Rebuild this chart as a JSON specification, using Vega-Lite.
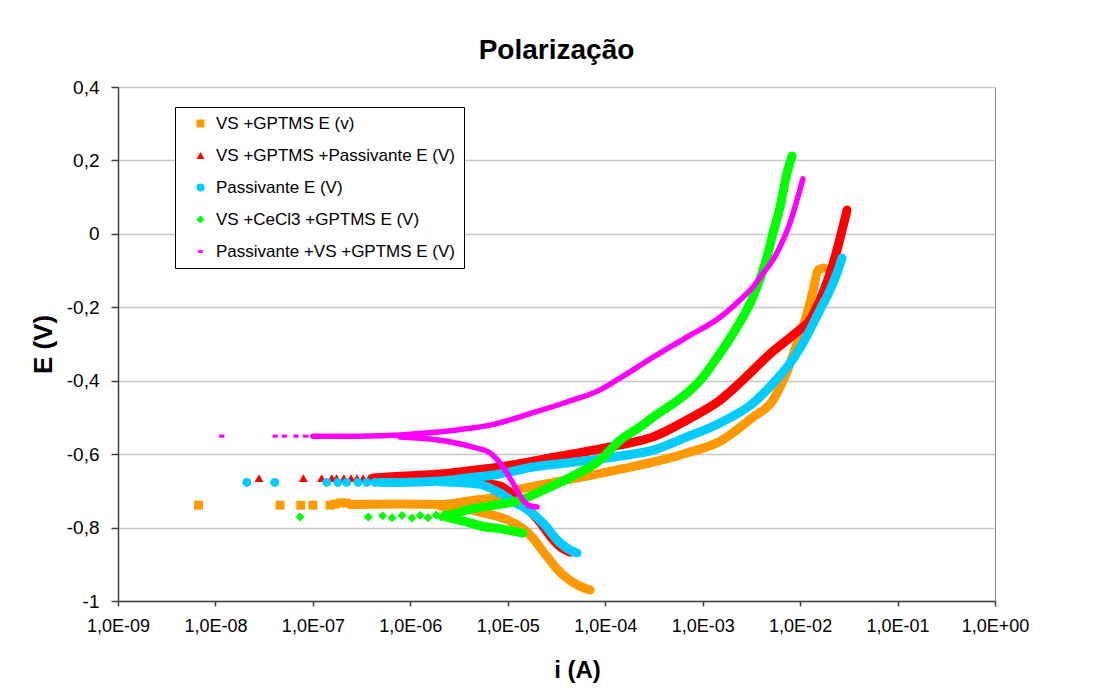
{
"$schema": "https://vega.github.io/schema/vega-lite/v6.json",
"width": 877, "height": 514,
"autosize": {"type": "none"},
"padding": {"left": 118, "top": 87, "right": 104, "bottom": 87},
"background": "white",
"title": {"text": "Polarização", "font": "Liberation Sans", "fontSize": 28, "fontWeight": "bold", "color": "black", "anchor": "middle", "baseline": "alphabetic", "offset": 28, "dy": 37},
"config": {"view": {"stroke": "#8c8c8c", "strokeWidth": 1}, "font": "Liberation Sans"},
"resolve": {"scale": {"color": "independent"}, "legend": {"color": "independent", "shape": "independent"}},
"datasets": {"d": [
{"s":"VS +GPTMS E (v)","k":"p","i":6.7e-9,"E":-0.739},
{"s":"VS +GPTMS E (v)","k":"p","i":4.6e-8,"E":-0.739},
{"s":"VS +GPTMS E (v)","k":"p","i":7.5e-8,"E":-0.739},
{"s":"VS +GPTMS E (v)","k":"p","i":1.0e-7,"E":-0.739},
{"s":"VS +GPTMS E (v)","k":"p","i":1.5e-7,"E":-0.739},
{"s":"VS +GPTMS E (v)","k":"p","i":1.69e-7,"E":-0.736},
{"s":"VS +GPTMS E (v)","k":"p","i":1.9e-7,"E":-0.733},
{"s":"VS +GPTMS E (v)","k":"p","i":2.19e-7,"E":-0.733},
{"s":"VS +GPTMS E (v)","k":"a","i":2.4e-7,"E":-0.737},
{"s":"VS +GPTMS E (v)","k":"a","i":7.83e-7,"E":-0.736},
{"s":"VS +GPTMS E (v)","k":"a","i":2.02e-6,"E":-0.737},
{"s":"VS +GPTMS E (v)","k":"a","i":3.82e-6,"E":-0.728},
{"s":"VS +GPTMS E (v)","k":"a","i":8.32e-6,"E":-0.714},
{"s":"VS +GPTMS E (v)","k":"a","i":1.24e-5,"E":-0.698},
{"s":"VS +GPTMS E (v)","k":"a","i":2.71e-5,"E":-0.679},
{"s":"VS +GPTMS E (v)","k":"a","i":5.92e-5,"E":-0.662},
{"s":"VS +GPTMS E (v)","k":"a","i":1.42e-4,"E":-0.641},
{"s":"VS +GPTMS E (v)","k":"a","i":3.10e-4,"E":-0.622},
{"s":"VS +GPTMS E (v)","k":"a","i":6.90e-4,"E":-0.597},
{"s":"VS +GPTMS E (v)","k":"a","i":1.51e-3,"E":-0.565},
{"s":"VS +GPTMS E (v)","k":"a","i":3.29e-3,"E":-0.499},
{"s":"VS +GPTMS E (v)","k":"a","i":5.27e-3,"E":-0.453},
{"s":"VS +GPTMS E (v)","k":"a","i":6.22e-3,"E":-0.417},
{"s":"VS +GPTMS E (v)","k":"a","i":7.35e-3,"E":-0.376},
{"s":"VS +GPTMS E (v)","k":"a","i":8.45e-3,"E":-0.330},
{"s":"VS +GPTMS E (v)","k":"a","i":9.98e-3,"E":-0.276},
{"s":"VS +GPTMS E (v)","k":"a","i":1.18e-2,"E":-0.216},
{"s":"VS +GPTMS E (v)","k":"a","i":1.36e-2,"E":-0.153},
{"s":"VS +GPTMS E (v)","k":"a","i":1.53e-2,"E":-0.099},
{"s":"VS +GPTMS E (v)","k":"a","i":1.76e-2,"E":-0.093},
{"s":"VS +GPTMS E (v)","k":"c","i":2.02e-6,"E":-0.741},
{"s":"VS +GPTMS E (v)","k":"c","i":4.09e-6,"E":-0.752},
{"s":"VS +GPTMS E (v)","k":"c","i":5.57e-6,"E":-0.760},
{"s":"VS +GPTMS E (v)","k":"c","i":7.76e-6,"E":-0.769},
{"s":"VS +GPTMS E (v)","k":"c","i":1.05e-5,"E":-0.782},
{"s":"VS +GPTMS E (v)","k":"c","i":1.40e-5,"E":-0.801},
{"s":"VS +GPTMS E (v)","k":"c","i":1.82e-5,"E":-0.829},
{"s":"VS +GPTMS E (v)","k":"c","i":2.24e-5,"E":-0.861},
{"s":"VS +GPTMS E (v)","k":"c","i":2.71e-5,"E":-0.889},
{"s":"VS +GPTMS E (v)","k":"c","i":3.28e-5,"E":-0.916},
{"s":"VS +GPTMS E (v)","k":"c","i":4.06e-5,"E":-0.938},
{"s":"VS +GPTMS E (v)","k":"c","i":5.26e-5,"E":-0.957},
{"s":"VS +GPTMS E (v)","k":"c","i":6.98e-5,"E":-0.970},

{"s":"VS +GPTMS +Passivante E (V)","k":"p","i":2.8e-8,"E":-0.665},
{"s":"VS +GPTMS +Passivante E (V)","k":"p","i":7.98e-8,"E":-0.665},
{"s":"VS +GPTMS +Passivante E (V)","k":"p","i":1.23e-7,"E":-0.665},
{"s":"VS +GPTMS +Passivante E (V)","k":"p","i":1.56e-7,"E":-0.665},
{"s":"VS +GPTMS +Passivante E (V)","k":"p","i":1.75e-7,"E":-0.665},
{"s":"VS +GPTMS +Passivante E (V)","k":"p","i":2.08e-7,"E":-0.665},
{"s":"VS +GPTMS +Passivante E (V)","k":"p","i":2.46e-7,"E":-0.665},
{"s":"VS +GPTMS +Passivante E (V)","k":"p","i":2.84e-7,"E":-0.665},
{"s":"VS +GPTMS +Passivante E (V)","k":"p","i":3.27e-7,"E":-0.665},
{"s":"VS +GPTMS +Passivante E (V)","k":"p","i":3.77e-7,"E":-0.665},
{"s":"VS +GPTMS +Passivante E (V)","k":"a","i":4.14e-7,"E":-0.665},
{"s":"VS +GPTMS +Passivante E (V)","k":"a","i":7.83e-7,"E":-0.660},
{"s":"VS +GPTMS +Passivante E (V)","k":"a","i":2.02e-6,"E":-0.654},
{"s":"VS +GPTMS +Passivante E (V)","k":"a","i":3.82e-6,"E":-0.646},
{"s":"VS +GPTMS +Passivante E (V)","k":"a","i":8.32e-6,"E":-0.635},
{"s":"VS +GPTMS +Passivante E (V)","k":"a","i":1.82e-5,"E":-0.619},
{"s":"VS +GPTMS +Passivante E (V)","k":"a","i":4.06e-5,"E":-0.602},
{"s":"VS +GPTMS +Passivante E (V)","k":"a","i":8.85e-5,"E":-0.586},
{"s":"VS +GPTMS +Passivante E (V)","k":"a","i":1.42e-4,"E":-0.575},
{"s":"VS +GPTMS +Passivante E (V)","k":"a","i":3.10e-4,"E":-0.553},
{"s":"VS +GPTMS +Passivante E (V)","k":"a","i":6.90e-4,"E":-0.507},
{"s":"VS +GPTMS +Passivante E (V)","k":"a","i":1.51e-3,"E":-0.453},
{"s":"VS +GPTMS +Passivante E (V)","k":"a","i":2.59e-3,"E":-0.398},
{"s":"VS +GPTMS +Passivante E (V)","k":"a","i":4.91e-3,"E":-0.327},
{"s":"VS +GPTMS +Passivante E (V)","k":"a","i":9.29e-3,"E":-0.267},
{"s":"VS +GPTMS +Passivante E (V)","k":"a","i":1.26e-2,"E":-0.235},
{"s":"VS +GPTMS +Passivante E (V)","k":"a","i":1.60e-2,"E":-0.180},
{"s":"VS +GPTMS +Passivante E (V)","k":"a","i":2.03e-2,"E":-0.107},
{"s":"VS +GPTMS +Passivante E (V)","k":"a","i":2.39e-2,"E":-0.044},
{"s":"VS +GPTMS +Passivante E (V)","k":"a","i":2.75e-2,"E":0.019},
{"s":"VS +GPTMS +Passivante E (V)","k":"a","i":3.03e-2,"E":0.065},
{"s":"VS +GPTMS +Passivante E (V)","k":"c","i":2.02e-6,"E":-0.656},
{"s":"VS +GPTMS +Passivante E (V)","k":"c","i":4.83e-6,"E":-0.676},
{"s":"VS +GPTMS +Passivante E (V)","k":"c","i":8.32e-6,"E":-0.687},
{"s":"VS +GPTMS +Passivante E (V)","k":"c","i":1.19e-5,"E":-0.717},
{"s":"VS +GPTMS +Passivante E (V)","k":"c","i":1.57e-5,"E":-0.747},
{"s":"VS +GPTMS +Passivante E (V)","k":"c","i":2.14e-5,"E":-0.785},
{"s":"VS +GPTMS +Passivante E (V)","k":"c","i":2.84e-5,"E":-0.829},
{"s":"VS +GPTMS +Passivante E (V)","k":"c","i":3.61e-5,"E":-0.856},
{"s":"VS +GPTMS +Passivante E (V)","k":"c","i":4.35e-5,"E":-0.867},

{"s":"Passivante E (V)","k":"p","i":2.1e-8,"E":-0.677},
{"s":"Passivante E (V)","k":"p","i":4.06e-8,"E":-0.677},
{"s":"Passivante E (V)","k":"p","i":1.39e-7,"E":-0.677},
{"s":"Passivante E (V)","k":"p","i":1.8e-7,"E":-0.677},
{"s":"Passivante E (V)","k":"p","i":2.22e-7,"E":-0.677},
{"s":"Passivante E (V)","k":"p","i":2.9e-7,"E":-0.677},
{"s":"Passivante E (V)","k":"p","i":3.57e-7,"E":-0.677},
{"s":"Passivante E (V)","k":"p","i":4.35e-7,"E":-0.677},
{"s":"Passivante E (V)","k":"a","i":4.89e-7,"E":-0.677},
{"s":"Passivante E (V)","k":"a","i":7.83e-7,"E":-0.677},
{"s":"Passivante E (V)","k":"a","i":2.02e-6,"E":-0.673},
{"s":"Passivante E (V)","k":"a","i":3.82e-6,"E":-0.665},
{"s":"Passivante E (V)","k":"a","i":8.32e-6,"E":-0.654},
{"s":"Passivante E (V)","k":"a","i":1.82e-5,"E":-0.635},
{"s":"Passivante E (V)","k":"a","i":4.06e-5,"E":-0.624},
{"s":"Passivante E (V)","k":"a","i":8.85e-5,"E":-0.613},
{"s":"Passivante E (V)","k":"a","i":1.42e-4,"E":-0.605},
{"s":"Passivante E (V)","k":"a","i":3.10e-4,"E":-0.589},
{"s":"Passivante E (V)","k":"a","i":6.90e-4,"E":-0.553},
{"s":"Passivante E (V)","k":"a","i":1.51e-3,"E":-0.515},
{"s":"Passivante E (V)","k":"a","i":3.29e-3,"E":-0.461},
{"s":"Passivante E (V)","k":"a","i":5.79e-3,"E":-0.395},
{"s":"Passivante E (V)","k":"a","i":7.35e-3,"E":-0.363},
{"s":"Passivante E (V)","k":"a","i":1.07e-2,"E":-0.297},
{"s":"Passivante E (V)","k":"a","i":1.60e-2,"E":-0.207},
{"s":"Passivante E (V)","k":"a","i":2.03e-2,"E":-0.153},
{"s":"Passivante E (V)","k":"a","i":2.39e-2,"E":-0.107},
{"s":"Passivante E (V)","k":"a","i":2.69e-2,"E":-0.066},
{"s":"Passivante E (V)","k":"c","i":2.02e-6,"E":-0.675},
{"s":"Passivante E (V)","k":"c","i":4.83e-6,"E":-0.681},
{"s":"Passivante E (V)","k":"c","i":8.32e-6,"E":-0.706},
{"s":"Passivante E (V)","k":"c","i":1.19e-5,"E":-0.733},
{"s":"Passivante E (V)","k":"c","i":1.57e-5,"E":-0.750},
{"s":"Passivante E (V)","k":"c","i":2.30e-5,"E":-0.788},
{"s":"Passivante E (V)","k":"c","i":3.44e-5,"E":-0.842},
{"s":"Passivante E (V)","k":"c","i":4.35e-5,"E":-0.861},
{"s":"Passivante E (V)","k":"c","i":5.14e-5,"E":-0.869},

{"s":"VS +CeCl3 +GPTMS E (V)","k":"p","i":7.4e-8,"E":-0.771},
{"s":"VS +CeCl3 +GPTMS E (V)","k":"p","i":3.7e-7,"E":-0.771},
{"s":"VS +CeCl3 +GPTMS E (V)","k":"p","i":5.2e-7,"E":-0.768},
{"s":"VS +CeCl3 +GPTMS E (V)","k":"p","i":6.5e-7,"E":-0.773},
{"s":"VS +CeCl3 +GPTMS E (V)","k":"p","i":8.22e-7,"E":-0.767},
{"s":"VS +CeCl3 +GPTMS E (V)","k":"p","i":1.04e-6,"E":-0.774},
{"s":"VS +CeCl3 +GPTMS E (V)","k":"p","i":1.26e-6,"E":-0.767},
{"s":"VS +CeCl3 +GPTMS E (V)","k":"p","i":1.52e-6,"E":-0.773},
{"s":"VS +CeCl3 +GPTMS E (V)","k":"p","i":1.84e-6,"E":-0.766},
{"s":"VS +CeCl3 +GPTMS E (V)","k":"p","i":2.1e-6,"E":-0.772},
{"s":"VS +CeCl3 +GPTMS E (V)","k":"a","i":2.27e-6,"E":-0.766},
{"s":"VS +CeCl3 +GPTMS E (V)","k":"a","i":2.88e-6,"E":-0.762},
{"s":"VS +CeCl3 +GPTMS E (V)","k":"a","i":3.82e-6,"E":-0.752},
{"s":"VS +CeCl3 +GPTMS E (V)","k":"a","i":6.58e-6,"E":-0.741},
{"s":"VS +CeCl3 +GPTMS E (V)","k":"a","i":1.24e-5,"E":-0.728},
{"s":"VS +CeCl3 +GPTMS E (V)","k":"a","i":2.71e-5,"E":-0.690},
{"s":"VS +CeCl3 +GPTMS E (V)","k":"a","i":4.90e-5,"E":-0.657},
{"s":"VS +CeCl3 +GPTMS E (V)","k":"a","i":8.85e-5,"E":-0.616},
{"s":"VS +CeCl3 +GPTMS E (V)","k":"a","i":1.42e-4,"E":-0.562},
{"s":"VS +CeCl3 +GPTMS E (V)","k":"a","i":2.28e-4,"E":-0.526},
{"s":"VS +CeCl3 +GPTMS E (V)","k":"a","i":3.10e-4,"E":-0.499},
{"s":"VS +CeCl3 +GPTMS E (V)","k":"a","i":6.90e-4,"E":-0.434},
{"s":"VS +CeCl3 +GPTMS E (V)","k":"a","i":1.01e-3,"E":-0.390},
{"s":"VS +CeCl3 +GPTMS E (V)","k":"a","i":1.51e-3,"E":-0.325},
{"s":"VS +CeCl3 +GPTMS E (V)","k":"a","i":2.25e-3,"E":-0.254},
{"s":"VS +CeCl3 +GPTMS E (V)","k":"a","i":3.29e-3,"E":-0.172},
{"s":"VS +CeCl3 +GPTMS E (V)","k":"a","i":4.57e-3,"E":-0.063},
{"s":"VS +CeCl3 +GPTMS E (V)","k":"a","i":5.27e-3,"E":0.002},
{"s":"VS +CeCl3 +GPTMS E (V)","k":"a","i":6.22e-3,"E":0.073},
{"s":"VS +CeCl3 +GPTMS E (V)","k":"a","i":7.35e-3,"E":0.166},
{"s":"VS +CeCl3 +GPTMS E (V)","k":"a","i":8.26e-3,"E":0.212},
{"s":"VS +CeCl3 +GPTMS E (V)","k":"c","i":2.27e-6,"E":-0.769},
{"s":"VS +CeCl3 +GPTMS E (V)","k":"c","i":2.55e-6,"E":-0.774},
{"s":"VS +CeCl3 +GPTMS E (V)","k":"c","i":3.82e-6,"E":-0.785},
{"s":"VS +CeCl3 +GPTMS E (V)","k":"c","i":5.57e-6,"E":-0.797},
{"s":"VS +CeCl3 +GPTMS E (V)","k":"c","i":8.32e-6,"E":-0.803},
{"s":"VS +CeCl3 +GPTMS E (V)","k":"c","i":1.10e-5,"E":-0.809},
{"s":"VS +CeCl3 +GPTMS E (V)","k":"c","i":1.43e-5,"E":-0.815},

{"s":"Passivante +VS +GPTMS E (V)","k":"p","i":1.16e-8,"E":-0.551},
{"s":"Passivante +VS +GPTMS E (V)","k":"p","i":4.1e-8,"E":-0.551},
{"s":"Passivante +VS +GPTMS E (V)","k":"p","i":5.1e-8,"E":-0.551},
{"s":"Passivante +VS +GPTMS E (V)","k":"p","i":6.7e-8,"E":-0.551},
{"s":"Passivante +VS +GPTMS E (V)","k":"p","i":8.4e-8,"E":-0.551},
{"s":"Passivante +VS +GPTMS E (V)","k":"a","i":1.0e-7,"E":-0.551},
{"s":"Passivante +VS +GPTMS E (V)","k":"a","i":3.05e-7,"E":-0.551},
{"s":"Passivante +VS +GPTMS E (V)","k":"a","i":7.83e-7,"E":-0.548},
{"s":"Passivante +VS +GPTMS E (V)","k":"a","i":1.35e-6,"E":-0.543},
{"s":"Passivante +VS +GPTMS E (V)","k":"a","i":3.01e-6,"E":-0.534},
{"s":"Passivante +VS +GPTMS E (V)","k":"a","i":6.58e-6,"E":-0.521},
{"s":"Passivante +VS +GPTMS E (V)","k":"a","i":1.82e-5,"E":-0.487},
{"s":"Passivante +VS +GPTMS E (V)","k":"a","i":4.06e-5,"E":-0.458},
{"s":"Passivante +VS +GPTMS E (V)","k":"a","i":8.85e-5,"E":-0.425},
{"s":"Passivante +VS +GPTMS E (V)","k":"a","i":1.32e-4,"E":-0.398},
{"s":"Passivante +VS +GPTMS E (V)","k":"a","i":3.10e-4,"E":-0.336},
{"s":"Passivante +VS +GPTMS E (V)","k":"a","i":6.90e-4,"E":-0.281},
{"s":"Passivante +VS +GPTMS E (V)","k":"a","i":1.51e-3,"E":-0.227},
{"s":"Passivante +VS +GPTMS E (V)","k":"a","i":2.42e-3,"E":-0.180},
{"s":"Passivante +VS +GPTMS E (V)","k":"a","i":3.29e-3,"E":-0.145},
{"s":"Passivante +VS +GPTMS E (V)","k":"a","i":4.16e-3,"E":-0.107},
{"s":"Passivante +VS +GPTMS E (V)","k":"a","i":5.27e-3,"E":-0.071},
{"s":"Passivante +VS +GPTMS E (V)","k":"a","i":6.68e-3,"E":-0.017},
{"s":"Passivante +VS +GPTMS E (V)","k":"a","i":7.89e-3,"E":0.030},
{"s":"Passivante +VS +GPTMS E (V)","k":"a","i":9.29e-3,"E":0.092},
{"s":"Passivante +VS +GPTMS E (V)","k":"a","i":1.07e-2,"E":0.150},
{"s":"Passivante +VS +GPTMS E (V)","k":"c","i":7.83e-7,"E":-0.553},
{"s":"Passivante +VS +GPTMS E (V)","k":"c","i":2.02e-6,"E":-0.562},
{"s":"Passivante +VS +GPTMS E (V)","k":"c","i":4.40e-6,"E":-0.581},
{"s":"Passivante +VS +GPTMS E (V)","k":"c","i":6.58e-6,"E":-0.597},
{"s":"Passivante +VS +GPTMS E (V)","k":"c","i":8.93e-6,"E":-0.635},
{"s":"Passivante +VS +GPTMS E (V)","k":"c","i":1.13e-5,"E":-0.679},
{"s":"Passivante +VS +GPTMS E (V)","k":"c","i":1.43e-5,"E":-0.725},
{"s":"Passivante +VS +GPTMS E (V)","k":"c","i":1.69e-5,"E":-0.741},
{"s":"Passivante +VS +GPTMS E (V)","k":"c","i":2.0e-5,"E":-0.744}
]},
"data": {"name": "d"},
"encoding": {
  "x": {"field": "i", "type": "quantitative", "title": "i (A)",
    "scale": {"type": "log", "domain": [1e-9, 1]},
    "axis": {"values": [1e-9, 1e-8, 1e-7, 1e-6, 1e-5, 1e-4, 1e-3, 1e-2, 1e-1, 1],
      "labelExpr": "'1,0E' + (datum.value < 0.5 ? '-' : '+') + (abs(round(log(datum.value)/LN10)) < 10 ? '0' : '') + abs(round(log(datum.value)/LN10))",
      "grid": false, "domainColor": "#404040", "domainWidth": 1.5, "tickColor": "#404040", "tickSize": 5, "tickWidth": 1.5,
      "labelFont": "Liberation Sans", "labelFontSize": 18, "labelColor": "black", "labelPadding": 11, "labelFlush": false, "labelOverlap": false,
      "titleFont": "Liberation Sans", "titleFontSize": 24, "titleFontWeight": "bold", "titleColor": "black", "titleX": 459, "titleY": 76, "titleBaseline": "alphabetic"}},
  "y": {"field": "E", "type": "quantitative", "title": "E (V)",
    "scale": {"domain": [-1, 0.4], "nice": false, "zero": false},
    "axis": {"values": [-1, -0.8, -0.6, -0.4, -0.2, 0, 0.2, 0.4],
      "labelExpr": "(datum.value < -0.001 ? '-' : '') + replace(format(abs(datum.value), '.1~f'), '.', ',')",
      "grid": true, "gridColor": "#c8c8c8", "gridWidth": 1.3, "domainColor": "#404040", "domainWidth": 1.5, "tickColor": "#404040", "tickSize": 7, "tickWidth": 1.5,
      "labelFont": "Liberation Sans", "labelFontSize": 19, "labelColor": "black", "labelPadding": 12,
      "titleFont": "Liberation Sans", "titleFontSize": 26, "titleFontWeight": "bold", "titleColor": "black", "titleX": -75, "titleY": 257, "titleAngle": -90, "titleAlign": "center", "titleBaseline": "middle"}}
},
"layer": [
  {"transform": [{"filter": "datum.k !== 'p'"}],
   "mark": {"type": "line", "strokeCap": "round", "strokeJoin": "round", "interpolate": "monotone", "clip": true},
   "encoding": {
     "color": {"field": "s", "type": "nominal", "legend": null,
       "scale": {"domain": ["VS +GPTMS E (v)", "VS +GPTMS +Passivante E (V)", "Passivante E (V)", "VS +CeCl3 +GPTMS E (V)", "Passivante +VS +GPTMS E (V)"],
                 "range": ["#FF9900", "#FF0000", "#00CCFF", "#00FF00", "#FF00FF"]}},
     "detail": {"field": "k"},
     "strokeWidth": {"condition": {"test": "datum.s === 'Passivante +VS +GPTMS E (V)'", "value": 5.5}, "value": 9}
   }},
  {"transform": [{"filter": "datum.k === 'p'"}],
   "mark": {"type": "point", "filled": true, "opacity": 1, "size": 80, "strokeWidth": 0},
   "encoding": {
     "color": {"field": "s", "type": "nominal",
       "legend": {"title": null, "orient": "none", "legendX": 57, "legendY": 20, "strokeColor": "black", "fillColor": "white", "padding": 8, "labelFont": "Liberation Sans", "labelFontSize": 17, "labelColor": "black", "symbolSize": 64, "rowPadding": 14, "symbolOffset": 9, "labelOffset": 7, "symbolStrokeWidth": 0, "labelLimit": 400},
       "scale": {"domain": ["VS +GPTMS E (v)", "VS +GPTMS +Passivante E (V)", "Passivante E (V)", "VS +CeCl3 +GPTMS E (V)", "Passivante +VS +GPTMS E (V)"],
                 "range": ["#FF9900", "#FF0000", "#00CCFF", "#00FF00", "#FF00FF"]}},
     "shape": {"field": "s", "type": "nominal",
       "legend": {"title": null, "orient": "none", "legendX": 57, "legendY": 20, "strokeColor": "black", "fillColor": "white", "padding": 8, "labelFont": "Liberation Sans", "labelFontSize": 17, "labelColor": "black", "symbolSize": 64, "rowPadding": 14, "symbolOffset": 9, "labelOffset": 7, "symbolStrokeWidth": 0, "labelLimit": 400},
       "scale": {"domain": ["VS +GPTMS E (v)", "VS +GPTMS +Passivante E (V)", "Passivante E (V)", "VS +CeCl3 +GPTMS E (V)", "Passivante +VS +GPTMS E (V)"],
                 "range": ["square", "triangle-up", "circle", "diamond", "M-0.6,-0.35L0.6,-0.35L0.6,0.35L-0.6,0.35Z"]}}
   }}
]
}
